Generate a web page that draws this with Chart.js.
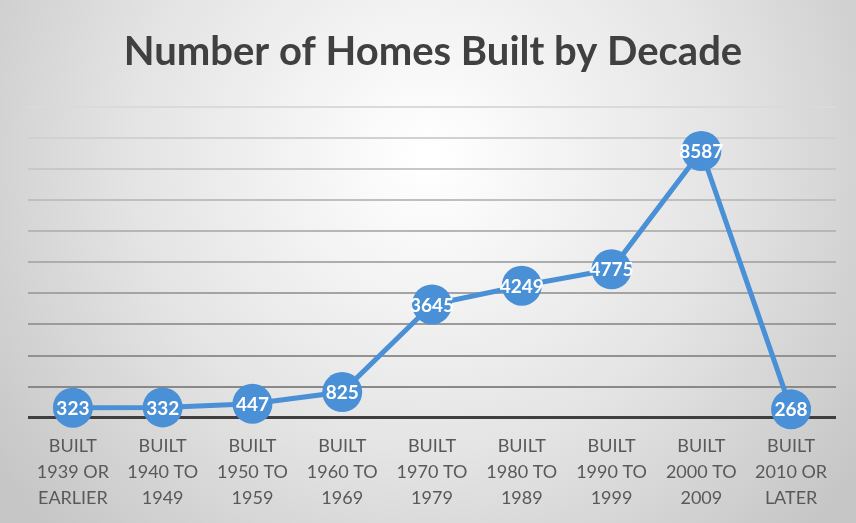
<!DOCTYPE html>
<html>
<head>
<meta charset="utf-8">
<script src="https://cdn.jsdelivr.net/npm/chart.js"></script>
<style>
  html, body { margin: 0; padding: 0; background: #fff; }
  canvas { display: block; }
</style>
</head>
<body>
<canvas id="homesChart" width="856" height="523"></canvas>
<script>
const categories = [
  ['BUILT', '1939 OR', 'EARLIER'],
  ['BUILT', '1940 TO', '1949'],
  ['BUILT', '1950 TO', '1959'],
  ['BUILT', '1960 TO', '1969'],
  ['BUILT', '1970 TO', '1979'],
  ['BUILT', '1980 TO', '1989'],
  ['BUILT', '1990 TO', '1999'],
  ['BUILT', '2000 TO', '2009'],
  ['BUILT', '2010 OR', 'LATER']
];
const homesBuilt = [323, 332, 447, 825, 3645, 4249, 4775, 8587, 268];

const lineBlue = '#4a90d6';

// radial grey background like the office chart style
const bgPlugin = {
  id: 'bg',
  beforeDraw(chart) {
    const ctx = chart.ctx;
    const w = chart.width, h = chart.height;
    ctx.save();
    const g = ctx.createRadialGradient(w * 0.5, h * 0.3, 10, w * 0.5, h * 0.3, w * 0.62);
    g.addColorStop(0, '#ffffff');
    g.addColorStop(0.55, '#e4e4e4');
    g.addColorStop(1, '#c6c6c6');
    ctx.fillStyle = g;
    ctx.fillRect(0, 0, w, h);
    ctx.restore();
  }
};

// white value labels on top of each point
const valueLabels = {
  id: 'valueLabels',
  afterDatasetsDraw(chart) {
    const ctx = chart.ctx;
    const meta = chart.getDatasetMeta(0);
    ctx.save();
    ctx.font = 'bold 19px Lato';
    ctx.fillStyle = '#ffffff';
    ctx.textAlign = 'center';
    ctx.textBaseline = 'middle';
    meta.data.forEach((pt, i) => {
      ctx.fillText(String(chart.data.datasets[0].data[i]), pt.x, pt.y + 1);
    });
    ctx.restore();
  }
};

function gridShade(ctx) {
  const v = ctx.tick ? ctx.tick.value : 0;
  if (v === 0) return '#3f3f3f';
  const t = v / 10000;
  const c = Math.round(128 + t * 90);
  return 'rgb(' + c + ',' + c + ',' + c + ')';
}

new Chart(document.getElementById('homesChart'), {
  type: 'line',
  data: {
    labels: categories,
    datasets: [{
      data: homesBuilt,
      borderColor: lineBlue,
      backgroundColor: lineBlue,
      borderWidth: 5,
      pointRadius: 20,
      pointHoverRadius: 20,
      pointBorderWidth: 0,
      pointBackgroundColor: lineBlue,
      tension: 0,
      clip: false
    }]
  },
  options: {
    responsive: false,
    animation: false,
    events: [],
    layout: { padding: { left: 28, right: 18, top: 0, bottom: -3 } },
    plugins: {
      legend: { display: false },
      tooltip: { enabled: false },
      title: {
        display: true,
        text: 'Number of Homes Built by Decade',
        color: '#404040',
        font: { family: 'Lato', size: 40, weight: 'bold', lineHeight: 1.2 },
        padding: { top: 28, bottom: 31 }
      }
    },
    scales: {
      x: {
        offset: true,
        grid: { display: false, drawTicks: false },
        border: { display: false },
        ticks: {
          color: '#595959',
          padding: 15,
          maxRotation: 0,
          autoSkip: false,
          font: { family: 'Lato', size: 18, lineHeight: 1.45 }
        }
      },
      y: {
        min: 0,
        max: 10000,
        ticks: { display: false, stepSize: 1000 },
        border: { display: false },
        grid: {
          drawTicks: false,
          color: gridShade,
          lineWidth: (ctx) => (ctx.tick && ctx.tick.value === 0 ? 3 : 2)
        }
      }
    }
  },
  plugins: [bgPlugin, valueLabels]
});
</script>
</body>
</html>
